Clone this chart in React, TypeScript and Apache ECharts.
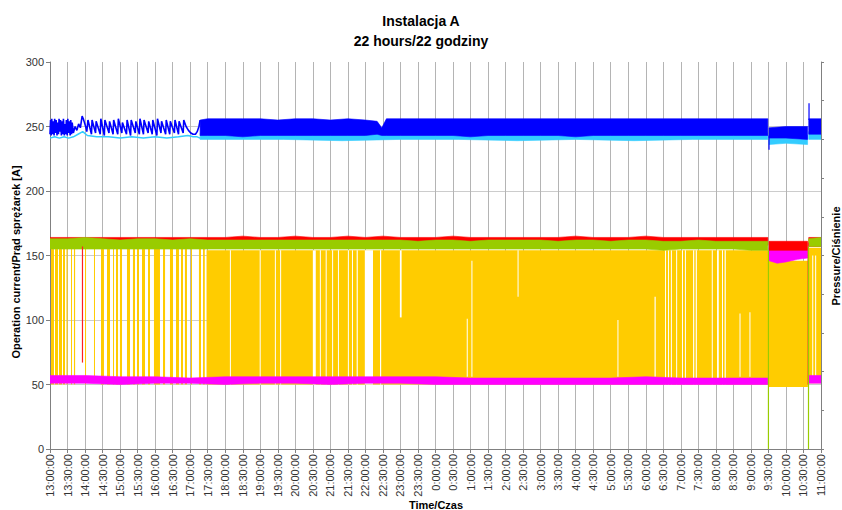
import React, { useEffect, useRef } from 'react';
import * as echarts from 'echarts';

const FONT = '"Liberation Sans", Arial, sans-serif';
const START_MIN = 13 * 60; // 13:00
const T_MAX = 1320; // 22 hours in minutes

// ---- Early blue / cyan pressure traces (minutes from 13:00, value) ----
const blueEarly: number[][] = [
  [0, 244], [1, 255], [2, 243], [3, 256], [4.5, 244], [5.5, 254], [7, 243], [8, 256], [9.5, 245], [10.5, 255],
  [12, 243], [13, 253], [14.5, 244], [15.5, 256], [17, 246], [18, 255], [19.5, 243], [20.5, 254], [22, 244], [23, 256],
  [24.5, 243], [25.5, 252], [27, 244], [28, 255], [29.5, 243], [30.5, 256], [32, 245], [33, 254], [34.5, 243], [35.5, 255],
  [37, 244], [38, 253], [40, 245], [43, 250], [46, 247], [49, 252], [52, 249], [55, 258], [57, 256], [59, 253],
  [61, 250], [63, 246], [65, 255], [71, 244], [72, 255], [78, 245], [79, 254], [86, 244], [87, 256], [93, 243],
  [94, 255], [101, 245], [102, 254], [108, 244], [109, 255], [116, 244], [117, 256], [123, 245], [124, 253], [131, 244],
  [132, 255], [138, 243], [139, 255], [146, 245], [147, 254], [153, 244], [154, 256], [160, 244], [161, 255], [168, 245],
  [169, 254], [175, 244], [176, 255], [183, 243], [184, 256], [190, 245], [191, 254], [198, 244], [199, 255], [205, 244],
  [206, 254], [213, 245], [214, 255], [220, 244], [221, 254], [228, 245], [229, 255], [233, 250], [237, 247], [241, 245],
  [245, 244], [249, 244], [252, 246], [255, 250], [257, 255],
];
const cyanEarly: number[][] = [
  [0, 241], [8, 242], [16, 241], [24, 242], [32, 241], [40, 242], [48, 244], [56, 246], [64, 243], [80, 242],
  [100, 242], [120, 241], [140, 242], [160, 241], [180, 242], [200, 241], [220, 242], [236, 243], [245, 242], [252, 242], [257, 241],
];

// ---- Bands: segments of [minute, low, high] ----
const blueBand: number[][][] = [
  [[257, 243, 255], [270, 243, 256], [300, 243, 256], [330, 242, 256], [360, 243, 256], [390, 243, 255], [420, 243, 256],
   [450, 243, 256], [480, 243, 255], [510, 243, 256], [540, 243, 255], [560, 244, 254], [568, 243, 249], [576, 243, 256],
   [600, 243, 256], [630, 243, 256], [660, 243, 256], [690, 243, 256], [720, 242, 256], [750, 243, 256], [780, 243, 256],
   [810, 243, 256], [840, 243, 256], [870, 243, 256], [900, 242, 256], [930, 243, 256], [960, 243, 256], [990, 243, 256],
   [1020, 243, 256], [1050, 243, 256], [1080, 243, 256], [1110, 243, 256], [1140, 243, 256], [1170, 243, 256], [1200, 243, 256], [1229, 243, 256]],
  [[1231, 241, 249], [1260, 241, 250], [1297, 240, 250]],
  [[1299, 244, 256], [1320, 244, 256]],
];
const cyanBand: number[][][] = [
  [[257, 240, 245], [300, 240, 245], [400, 240, 245], [500, 239, 245], [600, 240, 245], [700, 240, 245], [800, 239, 245],
   [900, 240, 245], [1000, 239, 245], [1100, 240, 245], [1229, 240, 245]],
  [[1231, 236, 243], [1260, 237, 243], [1297, 236, 243]],
  [[1299, 240, 246], [1320, 240, 246]],
];
const redBand: number[][][] = [
  [[0, 156, 164], [30, 156, 164], [60, 156, 164], [90, 157, 164], [120, 156, 164], [150, 156, 164], [180, 157, 164],
   [210, 156, 164], [240, 157, 164], [270, 157, 164], [300, 158, 164], [330, 158, 165], [360, 157, 164], [390, 158, 164],
   [420, 158, 165], [450, 157, 164], [480, 158, 164], [510, 158, 165], [540, 157, 164], [570, 158, 165], [600, 158, 164],
   [630, 158, 164], [660, 158, 164], [690, 158, 165], [720, 158, 164], [750, 158, 164], [780, 158, 164], [810, 157, 164],
   [840, 158, 164], [870, 158, 164], [900, 158, 165], [930, 158, 164], [960, 158, 164], [990, 158, 164], [1020, 158, 165],
   [1050, 158, 164], [1080, 158, 164], [1110, 157, 164], [1140, 158, 164], [1170, 158, 164], [1200, 158, 164], [1229, 158, 164]],
  [[1231, 154, 161], [1260, 154, 161], [1297, 154, 161]],
  [[1299, 157, 164], [1320, 157, 164]],
];
const greenBand: number[][][] = [
  [[0, 155, 163], [30, 155, 163], [60, 155, 164], [90, 155, 163], [120, 155, 162], [150, 155, 163], [180, 155, 163],
   [210, 155, 162], [240, 155, 163], [270, 155, 162], [300, 155, 162], [330, 155, 162], [360, 155, 162], [390, 155, 162],
   [420, 155, 162], [450, 155, 162], [480, 155, 162], [510, 155, 162], [540, 155, 162], [570, 155, 162], [600, 155, 162],
   [630, 155, 161], [660, 155, 162], [690, 155, 162], [720, 155, 161], [750, 155, 162], [780, 155, 162], [810, 155, 162],
   [840, 155, 162], [870, 155, 161], [900, 155, 162], [930, 155, 162], [960, 155, 161], [990, 155, 162], [1020, 155, 162],
   [1050, 154, 161], [1080, 155, 161], [1110, 155, 162], [1140, 155, 161], [1170, 155, 161], [1200, 154, 161], [1229, 154, 161]],
  [[1299, 157, 163], [1320, 157, 164]],
];
const magentaBand: number[][][] = [
  [[0, 51, 57], [60, 51, 57], [120, 50, 56], [180, 51, 56], [240, 51, 55], [300, 50, 56], [360, 51, 56], [420, 51, 56],
   [480, 50, 56], [540, 51, 56], [600, 51, 56], [660, 50, 56], [720, 50, 55], [780, 50, 55], [840, 50, 55], [900, 50, 55],
   [960, 50, 55], [1020, 50, 56], [1080, 50, 55], [1140, 50, 55], [1200, 50, 55], [1229, 50, 55]],
  [[1231, 146, 156], [1245, 144, 156], [1260, 145, 156], [1280, 147, 156], [1297, 148, 156]],
  [[1299, 51, 57], [1320, 51, 57]],
];

// ---- Compressor current (yellow): on-blocks [start, end, low, high] ----
const yellowBlocks: number[][] = [
  [1.7, 6.8, 50, 155], [8.6, 13.7, 50, 155], [15.4, 20.5, 50, 155], [22.3, 25.7, 50, 155], [28.2, 30, 50, 155],
  [36, 37.7, 50, 155], [41, 43, 50, 155], [60, 61.6, 50, 155], [75.3, 77, 56, 155], [87.3, 92.4, 50, 155],
  [97.6, 102.7, 50, 155], [107.9, 109.6, 50, 155], [113, 116.4, 50, 155], [119.8, 123.3, 50, 155], [131.8, 137, 50, 155],
  [142, 145.5, 50, 155], [149, 152.4, 50, 155], [157.5, 162.6, 50, 155], [167.8, 171.2, 50, 155], [178, 188.3, 50, 155],
  [193.5, 197, 50, 155], [205.4, 210.6, 50, 155], [215.7, 220.8, 50, 155], [224.3, 227.7, 50, 155], [231, 234.5, 50, 155],
  [241.4, 243, 50, 155], [255, 258.5, 50, 155], [262, 265, 50, 155], [268, 1229.5, 50, 154], [1230.5, 1297.5, 48, 146],
  [1299, 1320, 51, 156],
];
// off-periods inside the dense yellow region: [start, end, low, high]
const yellowGaps: number[][] = [
  [308, 309.5, 50, 154], [359, 360.5, 50, 154], [385, 386.5, 50, 154], [394, 395.5, 50, 154], [450, 455, 50, 154],
  [462, 463.5, 50, 154], [472, 473.5, 50, 154], [483, 484.5, 50, 154], [493, 494.5, 50, 154], [510, 511.5, 50, 154],
  [517, 518.5, 50, 154], [525, 527, 50, 154], [539, 553, 50, 154], [565, 567, 50, 154], [599, 602, 102, 154],
  [713.5, 715, 56, 101], [721.5, 723, 56, 146], [800.5, 802, 118, 154], [971.5, 973, 56, 100], [1035, 1037, 56, 118],
  [1053, 1054.5, 50, 154], [1058, 1059.5, 50, 154], [1063, 1064.5, 50, 154], [1072, 1073.5, 50, 154], [1082, 1083.5, 50, 154],
  [1087, 1088.5, 50, 154], [1101, 1103, 50, 154], [1105.5, 1107.5, 50, 154], [1133, 1134.5, 50, 154], [1142, 1145, 50, 154],
  [1150.5, 1152, 50, 154], [1155, 1157, 50, 154], [1180.5, 1182, 56, 105], [1197.5, 1199, 56, 106], [1305, 1306.5, 56, 150],
  [1310, 1311, 56, 150],
];

// single-sample spikes: [minute, from, to]
const redSpikes: number[][] = [[55.6, 157, 67], [1298, 160, 50]];
const greenSpikes: number[][] = [[1230, 154, 0], [1298.6, 157, 0]];
const blueSpikes: number[][] = [[1231, 243, 232], [1299.5, 255, 268]];

const fmtTime = (v: number) => {
  const tot = START_MIN + v;
  const h = Math.floor(tot / 60) % 24;
  const m = Math.round(tot % 60);
  return `${h}:${m < 10 ? '0' + m : m}:00`;
};

const rectRender = (fill: string) => (params: any, api: any) => {
  const p0 = api.coord([api.value(0), api.value(3)]);
  const p1 = api.coord([api.value(1), api.value(2)]);
  return {
    type: 'rect',
    shape: { x: p0[0], y: p0[1], width: Math.max(p1[0] - p0[0], 1), height: p1[1] - p0[1] },
    style: { fill },
  };
};

const bandSeries = (name: string, segs: number[][][], fill: string) => ({
  name,
  type: 'custom',
  silent: true,
  clip: true,
  data: segs.map((s) => [s[0][0], s[0][1]]),
  encode: { x: 0, y: 1 },
  renderItem: (params: any, api: any) => {
    const seg = segs[params.dataIndex];
    const top = seg.map((r) => api.coord([r[0], r[2]]));
    const bot = seg.map((r) => api.coord([r[0], r[1]])).reverse();
    return { type: 'polygon', shape: { points: top.concat(bot) }, style: { fill, stroke: fill, lineWidth: 0.6 } };
  },
});

const spikeSeries = (name: string, rows: number[][], stroke: string) => ({
  name,
  type: 'custom',
  silent: true,
  clip: true,
  data: rows,
  encode: { x: 0, y: [1, 2] },
  renderItem: (params: any, api: any) => {
    const a = api.coord([api.value(0), api.value(1)]);
    const b = api.coord([api.value(0), api.value(2)]);
    return { type: 'line', shape: { x1: a[0], y1: a[1], x2: b[0], y2: b[1] }, style: { stroke, lineWidth: 1.2 } };
  },
});

export default function App() {
  const ref = useRef<HTMLDivElement>(null);
  useEffect(() => {
    document.body.style.margin = '0';
    const chart = echarts.init(ref.current!, undefined, { renderer: 'svg' });
    const option: any = {
      animation: false,
      backgroundColor: '#ffffff',
      textStyle: { fontFamily: FONT },
      title: [
        { text: 'Instalacja A', left: 'center', top: 9, textStyle: { fontFamily: FONT, fontSize: 14, fontWeight: 'bold', color: '#000' } },
        { text: '22 hours/22 godziny', left: 'center', top: 29, textStyle: { fontFamily: FONT, fontSize: 14, fontWeight: 'bold', color: '#000' } },
      ],
      grid: { left: 50, right: 21, top: 62, bottom: 61 },
      xAxis: {
        type: 'value',
        min: 0,
        max: T_MAX,
        interval: 30,
        axisLine: { lineStyle: { color: '#808080' } },
        axisTick: { show: true, length: 4, lineStyle: { color: '#808080' } },
        axisLabel: { rotate: 90, fontFamily: FONT, fontSize: 11, color: '#333', margin: 5, formatter: fmtTime, showMaxLabel: true, showMinLabel: true },
        splitLine: { show: true, lineStyle: { color: '#b4b4b4', width: 1 } },
      },
      yAxis: [
        {
          type: 'value',
          min: 0,
          max: 300,
          interval: 50,
          position: 'left',
          axisLine: { show: true, lineStyle: { color: '#808080' } },
          axisTick: { show: true, length: 4, lineStyle: { color: '#808080' } },
          axisLabel: { fontFamily: FONT, fontSize: 11, color: '#333', margin: 6 },
          splitLine: { show: true, lineStyle: { color: ['#cccccc', '#cccccc', '#cccccc', '#cccccc', '#cccccc', '#cccccc', 'transparent'], width: 1 } },
        },
        {
          type: 'value',
          min: 0,
          max: 10,
          interval: 1,
          position: 'right',
          axisLine: { show: true, lineStyle: { color: '#808080' } },
          axisTick: { show: true, length: 3, lineStyle: { color: '#808080' } },
          axisLabel: { show: false },
          splitLine: { show: false },
        },
      ],
      graphic: [
        { type: 'text', x: 16, y: 262, rotation: Math.PI / 2, style: { text: 'Operation current/Prąd sprężarek [A]', fontFamily: FONT, fontSize: 11, fontWeight: 'bold', fill: '#000', align: 'center', verticalAlign: 'middle' } },
        { type: 'text', x: 836, y: 256, rotation: Math.PI / 2, style: { text: 'Pressure/Ciśnienie', fontFamily: FONT, fontSize: 11, fontWeight: 'bold', fill: '#000', align: 'center', verticalAlign: 'middle' } },
        { type: 'text', x: 436, y: 505, style: { text: 'Time/Czas', fontFamily: FONT, fontSize: 11, fontWeight: 'bold', fill: '#000', align: 'center', verticalAlign: 'middle' } },
      ],
      series: [
        { name: 'Current', type: 'custom', silent: true, clip: true, data: yellowBlocks, encode: { x: [0, 1], y: [2, 3] }, renderItem: rectRender('#ffcc00') },
        { name: 'Off', type: 'custom', silent: true, clip: true, data: yellowGaps, encode: { x: [0, 1], y: [2, 3] }, renderItem: rectRender('#ffffff') },
        bandSeries('Magenta', magentaBand, '#ff00ff'),
        bandSeries('Red', redBand, '#ff0000'),
        bandSeries('Green', greenBand, '#99cc00'),
        spikeSeries('RedSpikes', redSpikes, '#ff2020'),
        spikeSeries('GreenSpikes', greenSpikes, '#99cc00'),
        { name: 'CyanEarly', type: 'line', data: cyanEarly, showSymbol: false, symbol: 'none', lineStyle: { color: '#33ccff', width: 1.5 }, silent: true },
        bandSeries('Cyan', cyanBand, '#33ccff'),
        { name: 'BlueEarly', type: 'line', data: blueEarly, showSymbol: false, symbol: 'none', lineStyle: { color: '#0000ff', width: 1.6 }, silent: true },
        bandSeries('Blue', blueBand, '#0000ff'),
        spikeSeries('BlueSpikes', blueSpikes, '#0000ff'),
      ],
    };
    chart.setOption(option);
    return () => chart.dispose();
  }, []);
  return <div ref={ref} style={{ width: 842, height: 510 }} />;
}
